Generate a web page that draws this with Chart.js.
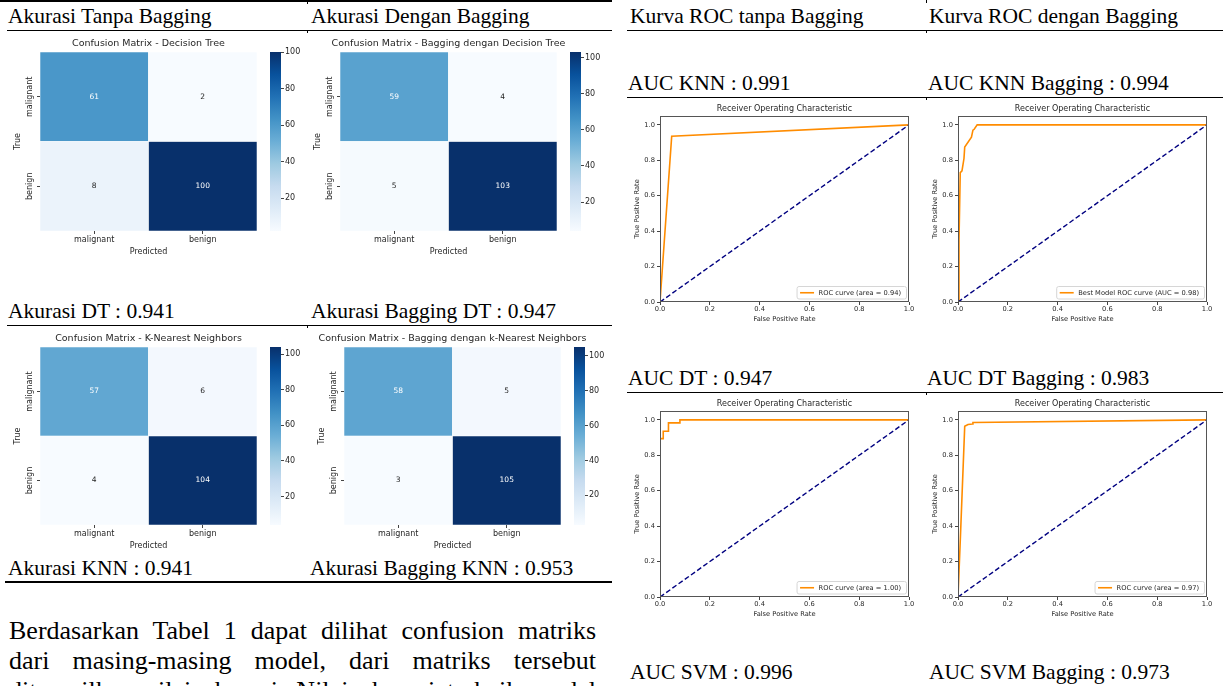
<!DOCTYPE html>
<html>
<head>
<meta charset="utf-8">
<script src="https://cdn.jsdelivr.net/npm/chart.js@4.4.1/dist/chart.umd.min.js"></script>
<style>
  body { margin: 0; width: 1223px; height: 686px; overflow: hidden; background: #fff; position: relative;
         font-family: 'Liberation Serif', 'Times New Roman', serif; color: #000; }
  .t { position: absolute; font-size: 21.5px; line-height: 21.5px; white-space: nowrap; }
  .h { position: absolute; background: #000; }
  .p { position: absolute; left: 9px; width: 587px; font-size: 26px; line-height: 30px; height: 30px;
       text-align: justify; text-align-last: justify; }
  canvas { position: absolute; }
</style>
</head>
<body>
<!-- tabel kiri -->
<div class="h" style="left:0;top:0;width:612px;height:1.5px"></div>
<div class="h" style="left:7px;top:29.5px;width:605px;height:1px"></div>
<div class="h" style="left:7px;top:324.5px;width:605px;height:1px"></div>
<div class="h" style="left:5px;top:581px;width:607px;height:2px"></div>
<div class="h" style="left:307px;top:0;width:1px;height:4px"></div>
<div class="h" style="left:307px;top:30px;width:1px;height:3px"></div>
<div class="h" style="left:307px;top:325px;width:1px;height:3px"></div>
<div class="t" style="left:8px;top:6px">Akurasi Tanpa Bagging</div>
<div class="t" style="left:311px;top:6px">Akurasi Dengan Bagging</div>
<div class="t" style="left:8px;top:301px">Akurasi DT : 0.941</div>
<div class="t" style="left:311px;top:301px">Akurasi Bagging DT : 0.947</div>
<div class="t" style="left:8px;top:558px">Akurasi KNN : 0.941</div>
<div class="t" style="left:310px;top:558px">Akurasi Bagging KNN : 0.953</div>

<!-- tabel kanan -->
<div class="h" style="left:627px;top:29.5px;width:596px;height:1px"></div>
<div class="h" style="left:627px;top:96.5px;width:596px;height:1px"></div>
<div class="h" style="left:627px;top:391.5px;width:596px;height:1px"></div>
<div class="h" style="left:926px;top:0;width:1px;height:3px"></div>
<div class="h" style="left:926px;top:30px;width:1px;height:3px"></div>
<div class="h" style="left:926px;top:97px;width:1px;height:3px"></div>
<div class="h" style="left:926px;top:392px;width:1px;height:3px"></div>
<div class="t" style="left:630px;top:6px">Kurva ROC tanpa Bagging</div>
<div class="t" style="left:929px;top:6px">Kurva ROC dengan Bagging</div>
<div class="t" style="left:628px;top:73px">AUC KNN : 0.991</div>
<div class="t" style="left:928px;top:73px">AUC KNN Bagging : 0.994</div>
<div class="t" style="left:628px;top:368px">AUC DT : 0.947</div>
<div class="t" style="left:927px;top:368px">AUC DT Bagging : 0.983</div>
<div class="t" style="left:630px;top:662px">AUC SVM : 0.996</div>
<div class="t" style="left:929px;top:662px">AUC SVM Bagging : 0.973</div>

<!-- paragraf -->
<div class="p" style="top:616px">Berdasarkan Tabel 1 dapat dilihat confusion matriks</div>
<div class="p" style="top:646px">dari masing-masing model, dari matriks tersebut</div>
<div class="p" style="top:676px">ditampilkan nilai akurasi. Nilai akurasi terbaik model</div>

<script>
// data confusion matrix (baris = True, kolom = Predicted)
const cmLabels = ['malignant', 'benign'];
const cmDT = [[61, 2], [8, 100]];
const cmBagDT = [[59, 4], [5, 103]];
const cmKNN = [[57, 6], [4, 104]];
const cmBagKNN = [[58, 5], [3, 105]];
const cbTicks = [20, 40, 60, 80, 100];

// data kurva ROC
const rocTicks = [0, 0.2, 0.4, 0.6, 0.8, 1.0];
const diagFpr = [0, 1];
const diagTpr = [0, 1];
const knnFpr = [0, 0.047, 1];
const knnTpr = [0, 0.936, 1];
const bagKnnFpr = [0, 0.004, 0.009, 0.016, 0.024, 0.027, 0.054, 0.06, 0.065, 0.077, 1];
const bagKnnTpr = [0, 0.35, 0.73, 0.74, 0.81, 0.875, 0.93, 0.97, 0.975, 1, 1];
const dtFpr = [0, 0, 0.013, 0.013, 0.034, 0.034, 0.08, 0.08, 1];
const dtTpr = [0, 0.894, 0.894, 0.936, 0.936, 0.983, 0.983, 1, 1];
const bagDtFpr = [0, 0.01, 0.027, 0.04, 0.058, 0.06, 1];
const bagDtTpr = [0, 0.35, 0.964, 0.974, 0.977, 0.985, 1];

// colormap Blues (matplotlib)
const bluesStops = ['#f7fbff', '#deebf7', '#c6dbef', '#9ecae1', '#6baed6', '#4292c6', '#2171b5', '#08519c', '#08306b'];

Chart.defaults.font.family = "'DejaVu Sans', sans-serif";
Chart.defaults.color = '#262626';

function hex(h) { return [1, 3, 5].map(i => parseInt(h.slice(i, i + 2), 16)); }

function blues(t) {
    t = Math.max(0, Math.min(1, t));
    const p = t * (bluesStops.length - 1);
    const i = Math.min(bluesStops.length - 2, Math.floor(p));
    const f = p - i;
    const a = hex(bluesStops[i]), b = hex(bluesStops[i + 1]);
    return a.map((c, k) => Math.round(c + (b[k] - c) * f));
}

function lum(rgb) {
    const c = rgb.map(v => { v /= 255; return v <= 0.03928 ? v / 12.92 : Math.pow((v + 0.055) / 1.055, 2.4); });
    return 0.2126 * c[0] + 0.7152 * c[1] + 0.0722 * c[2];
}

function makeCanvas(left, top, w, h) {
    const c = document.createElement('canvas');
    c.width = w; c.height = h;
    c.style.left = left + 'px'; c.style.top = top + 'px';
    c.style.width = w + 'px'; c.style.height = h + 'px';
    document.body.appendChild(c);
    return c;
}

// judul di atas area plot (tanpa dipadatkan)
const topTitle = {
    id: 'topTitle',
    afterDraw(chart, args, opts) {
        const a = chart.chartArea, ctx = chart.ctx;
        ctx.save();
        ctx.font = opts.size + "px 'DejaVu Sans'";
        ctx.fillStyle = '#262626';
        ctx.textAlign = 'center';
        ctx.textBaseline = 'middle';
        ctx.fillText(opts.text, (a.left + a.right) / 2, a.top - opts.gap);
        ctx.restore();
    }
};

// angka di tiap sel
const cellText = {
    id: 'cellText',
    afterDatasetsDraw(chart) {
        const ctx = chart.ctx;
        ctx.save();
        ctx.font = "7.5px 'DejaVu Sans'";
        ctx.textAlign = 'center';
        ctx.textBaseline = 'middle';
        chart.data.datasets.forEach((ds, di) => {
            chart.getDatasetMeta(di).data.forEach((bar, j) => {
                ctx.fillStyle = lum(ds.rgb[j]) < 0.408 ? '#ffffff' : '#262626';
                ctx.fillText(String(ds.values[j]), bar.x, (bar.y + bar.base) / 2);
            });
        });
        ctx.restore();
    }
};

// label sumbu y diputar
const rotLabels = {
    id: 'rotLabels',
    afterDraw(chart) {
        const s = chart.scales.y, ctx = chart.ctx, n = cmLabels.length;
        ctx.save();
        ctx.font = "8px 'DejaVu Sans'";
        ctx.fillStyle = '#262626';
        ctx.textAlign = 'center';
        ctx.textBaseline = 'middle';
        cmLabels.forEach((lab, i) => {
            ctx.save();
            ctx.translate(chart.chartArea.left - 10, s.getPixelForValue(n - i - 0.5));
            ctx.rotate(-Math.PI / 2);
            ctx.fillText(lab, 0, 0);
            ctx.restore();
        });
        ctx.restore();
    }
};

function heatmap(title, matrix, box, cbX) {
    const flat = matrix.flat();
    const min = Math.min(...flat), max = Math.max(...flat);
    const n = cmLabels.length;
    const left = box.L - 40, top = box.T - 20;
    const padR = 50;
    const w = box.R - left + padR, h = box.B - top + 26;

    const datasets = matrix.map((row, i) => {
        const cols = row.map(v => blues((v - min) / (max - min)));
        return {
            label: cmLabels[i],
            data: row.map(() => 1),
            values: row,
            rgb: cols,
            backgroundColor: cols.map(c => 'rgb(' + c.join(',') + ')'),
            borderColor: 'rgba(255,255,255,0.85)',
            borderWidth: 0.6,
            borderSkipped: false,
            barPercentage: 1,
            categoryPercentage: 1
        };
    }).reverse();

    new Chart(makeCanvas(left, top, w, h), {
        type: 'bar',
        data: { labels: cmLabels, datasets: datasets },
        options: {
            responsive: false, animation: false, events: [],
            layout: { padding: { top: 20, right: padR, left: 0, bottom: 0 }, autoPadding: false },
            plugins: {
                legend: { display: false },
                tooltip: { enabled: false },
                topTitle: { text: title, size: 9.5, gap: 8.5 }
            },
            scales: {
                x: {
                    stacked: true,
                    grid: { offset: false, drawOnChartArea: false, tickLength: 3, color: '#444' },
                    border: { display: false },
                    ticks: { font: { size: 8 }, padding: 1, maxRotation: 0, autoSkip: false },
                    title: { display: true, text: 'Predicted', font: { size: 8 }, padding: { top: 0, bottom: 0.5 } },
                    afterFit: s => { s.height = 26; }
                },
                y: {
                    stacked: true, min: 0, max: n,
                    grid: { drawOnChartArea: false, tickLength: 3, color: '#444' },
                    border: { display: false },
                    ticks: { display: false },
                    afterBuildTicks: s => { s.ticks = cmLabels.map((l, i) => ({ value: n - i - 0.5 })); },
                    title: { display: true, text: 'True', font: { size: 8 }, padding: { top: 13.5, bottom: 0 } },
                    afterFit: s => { s.width = 40; }
                }
            }
        },
        plugins: [cellText, rotLabels, topTitle]
    });

    // colorbar
    new Chart(makeCanvas(cbX - 8, top, 8 + 11 + 32, h), {
        type: 'bar',
        data: {
            labels: [''],
            datasets: [{
                data: [[min, max]],
                backgroundColor: ctx => {
                    const a = ctx.chart.chartArea;
                    if (!a) return 'transparent';
                    const g = ctx.chart.ctx.createLinearGradient(0, a.bottom, 0, a.top);
                    bluesStops.forEach((c, i) => g.addColorStop(i / (bluesStops.length - 1), c));
                    return g;
                },
                borderWidth: 0,
                barPercentage: 1,
                categoryPercentage: 1
            }]
        },
        options: {
            responsive: false, animation: false, events: [],
            layout: { padding: { top: 20, bottom: 26, left: 8, right: 0 }, autoPadding: false },
            plugins: { legend: { display: false }, tooltip: { enabled: false } },
            scales: {
                x: { display: false },
                y: {
                    position: 'right', min: min, max: max,
                    grid: { drawOnChartArea: false, tickLength: 3, color: '#444' },
                    border: { display: false },
                    ticks: { font: { size: 8 }, padding: 1 },
                    afterBuildTicks: s => { s.ticks = cbTicks.filter(v => v >= min && v <= max).map(v => ({ value: v })); },
                    afterFit: s => { s.width = 32; }
                }
            }
        }
    });
}

// bingkai sumbu (4 sisi)
const rocFrame = {
    id: 'rocFrame',
    afterDatasetsDraw(chart) {
        const a = chart.chartArea, ctx = chart.ctx;
        ctx.save();
        ctx.strokeStyle = '#555';
        ctx.lineWidth = 1;
        ctx.strokeRect(a.left + 0.5, a.top + 0.5, a.width - 1, a.height - 1);
        ctx.restore();
    }
};

// legenda kanan bawah
const rocLegend = {
    id: 'rocLegend',
    afterDraw(chart) {
        const a = chart.chartArea, ctx = chart.ctx, ds = chart.data.datasets[1];
        ctx.save();
        ctx.font = "6.7px 'DejaVu Sans'";
        const tw = ctx.measureText(ds.label).width;
        const bw = tw + 27, bh = 12.5;
        const x = a.right - 2.5 - bw, y = a.bottom - 3 - bh;
        ctx.fillStyle = 'rgba(255,255,255,0.85)';
        ctx.strokeStyle = '#d6d6d6';
        ctx.lineWidth = 1;
        ctx.beginPath();
        ctx.roundRect(x, y, bw, bh, 2);
        ctx.fill();
        ctx.stroke();
        ctx.strokeStyle = ds.borderColor;
        ctx.lineWidth = ds.borderWidth;
        ctx.beginPath();
        ctx.moveTo(x + 3, y + bh / 2);
        ctx.lineTo(x + 17, y + bh / 2);
        ctx.stroke();
        ctx.fillStyle = '#262626';
        ctx.textBaseline = 'middle';
        ctx.fillText(ds.label, x + 21.5, y + bh / 2 + 0.3);
        ctx.restore();
    }
};

function roc(fpr, tpr, label, box) {
    const left = box.L - 40, top = box.T - 20;
    const w = box.R - left + 8, h = box.B - top + 21;
    const tickFmt = v => Number(v).toFixed(1);
    new Chart(makeCanvas(left, top, w, h), {
        type: 'scatter',
        data: {
            datasets: [
                { label: 'chance', data: diagFpr.map((x, i) => ({ x: x, y: diagTpr[i] })), showLine: true,
                  borderColor: '#000080', borderWidth: 1.4, borderDash: [5, 2.6], pointRadius: 0 },
                { label: label, data: fpr.map((x, i) => ({ x: x, y: tpr[i] })), showLine: true,
                  borderColor: '#ff8c00', borderWidth: 1.6, pointRadius: 0 }
            ]
        },
        options: {
            responsive: false, animation: false, events: [],
            layout: { padding: { top: 20, right: 8, left: 0, bottom: 0 }, autoPadding: false },
            plugins: {
                legend: { display: false },
                tooltip: { enabled: false },
                topTitle: { text: 'Receiver Operating Characteristic', size: 8, gap: 7.5 }
            },
            scales: {
                x: {
                    type: 'linear', min: 0, max: 1,
                    afterBuildTicks: s => { s.ticks = rocTicks.map(v => ({ value: v })); },
                    ticks: { font: { size: 6.7 }, padding: 0.5, maxRotation: 0, callback: tickFmt },
                    grid: { drawOnChartArea: false, tickLength: 3, color: '#444' },
                    border: { display: false },
                    title: { display: true, text: 'False Positive Rate', font: { size: 6.7 }, padding: { top: 0, bottom: 0 } },
                    afterFit: s => { s.height = 21; }
                },
                y: {
                    type: 'linear', min: 0, max: 1.05,
                    afterBuildTicks: s => { s.ticks = rocTicks.map(v => ({ value: v })); },
                    ticks: { font: { size: 6.7 }, padding: 2, callback: tickFmt },
                    grid: { drawOnChartArea: false, tickLength: 3, color: '#444' },
                    border: { display: false },
                    title: { display: true, text: 'True Positive Rate', font: { size: 6.7 }, padding: { top: 13, bottom: 0 } },
                    afterFit: s => { s.width = 40; }
                }
            }
        },
        plugins: [rocFrame, rocLegend, topTitle]
    });
}

heatmap('Confusion Matrix - Decision Tree', cmDT, { L: 40, T: 52, R: 257, B: 231 }, 270);
heatmap('Confusion Matrix - Bagging dengan Decision Tree', cmBagDT, { L: 340, T: 52, R: 557, B: 231 }, 570);
heatmap('Confusion Matrix - K-Nearest Neighbors', cmKNN, { L: 40, T: 347, R: 257, B: 525 }, 270);
heatmap('Confusion Matrix - Bagging dengan k-Nearest Neighbors', cmBagKNN, { L: 344, T: 347, R: 561, B: 525 }, 574);

roc(knnFpr, knnTpr, 'ROC curve (area = 0.94)', { L: 660, T: 116, R: 909, B: 302 });
roc(bagKnnFpr, bagKnnTpr, 'Best Model ROC curve (AUC = 0.98)', { L: 958, T: 116, R: 1207, B: 302 });
roc(dtFpr, dtTpr, 'ROC curve (area = 1.00)', { L: 660, T: 411, R: 909, B: 597 });
roc(bagDtFpr, bagDtTpr, 'ROC curve (area = 0.97)', { L: 958, T: 411, R: 1207, B: 597 });
</script>
</body>
</html>
